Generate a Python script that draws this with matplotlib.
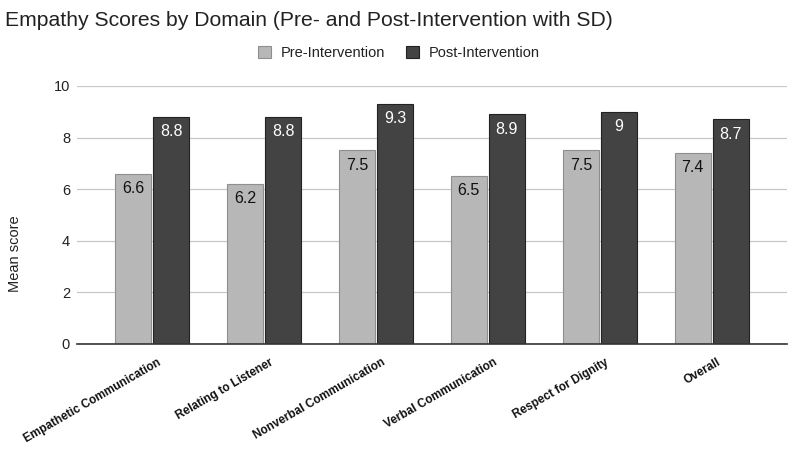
import matplotlib
matplotlib.use("Agg")
import matplotlib.pyplot as plt
import matplotlib.transforms as mtransforms
import numpy as np

categories = ["Empathetic Communication", "Relating to Listener", "Nonverbal Communication",
              "Verbal Communication", "Respect for Dignity", "Overall"]
pre = [6.6, 6.2, 7.5, 6.5, 7.5, 7.4]
post = [8.8, 8.8, 9.3, 8.9, 9.0, 8.7]
pre_labels = ["6.6", "6.2", "7.5", "6.5", "7.5", "7.4"]
post_labels = ["8.8", "8.8", "9.3", "8.9", "9", "8.7"]
yticks = [0, 2, 4, 6, 8, 10]

plt.rcParams['font.family'] = ['Liberation Sans', 'DejaVu Sans']

fig = plt.figure(figsize=(7.98, 4.5), dpi=100)
ax = fig.add_axes([0.0965, 0.2356, 0.8895, 0.5734])

x = np.arange(len(categories))
w = 0.32
gap = 0.01
b1 = ax.bar(x - w/2 - gap, pre, w, color="#b7b7b7", edgecolor="#8f8f8f", linewidth=0.8, zorder=3,
            label="Pre-Intervention")
b2 = ax.bar(x + w/2 + gap, post, w, color="#434343", edgecolor="#222222", linewidth=0.8, zorder=3,
            label="Post-Intervention")

for xi, v, t in zip(x - w/2 - gap, pre, pre_labels):
    ax.text(xi, v - 0.57, t, ha="center", va="center", fontsize=11.5, color="#111111", zorder=4)
for xi, v, t in zip(x + w/2 + gap, post, post_labels):
    ax.text(xi, v - 0.57, t, ha="center", va="center", fontsize=11.5, color="white", zorder=4)

ax.set_xlim(-0.67, 5.67)
ax.set_ylim(0, 10)
ax.set_yticks(yticks)
ax.set_yticklabels([str(t) for t in yticks], fontsize=10.5, color="#222222")
ax.yaxis.grid(True, color="#c8c8c8", linewidth=0.9, zorder=0)
ax.set_axisbelow(True)
for s in ["top", "right", "left"]:
    ax.spines[s].set_visible(False)
ax.spines["bottom"].set_color("#333333")
ax.spines["bottom"].set_linewidth(1.2)
ax.spines["bottom"].set_zorder(5)
ax.tick_params(axis="y", length=0, pad=5)
ax.tick_params(axis="x", length=0, pad=9)
ax.set_xticks(x)
ax.set_xticklabels(categories, rotation=30, ha="right", rotation_mode="anchor",
                   fontsize=8.5, fontweight="bold", color="#111111")
offset = mtransforms.ScaledTranslation(5/100, 0, fig.dpi_scale_trans)
for lab in ax.get_xticklabels():
    lab.set_transform(lab.get_transform() + offset)

ax.set_ylabel("Mean score", fontsize=10.5, color="#222222")
ax.yaxis.set_label_coords(-0.078, 0.35)

fig.text(0.006, 0.955, "Empathy Scores by Domain (Pre- and Post-Intervention with SD)",
         fontsize=15.2, color="#222222", ha="left", va="center")

leg = fig.legend(handles=[b1, b2], loc="center", bbox_to_anchor=(0.5, 0.882), ncol=2,
                 frameon=False, fontsize=10.5, handlelength=0.9, handleheight=0.9,
                 columnspacing=1.4, handletextpad=0.7)
for t in leg.get_texts():
    t.set_color("#222222")

fig.savefig("out.png", dpi=100)
